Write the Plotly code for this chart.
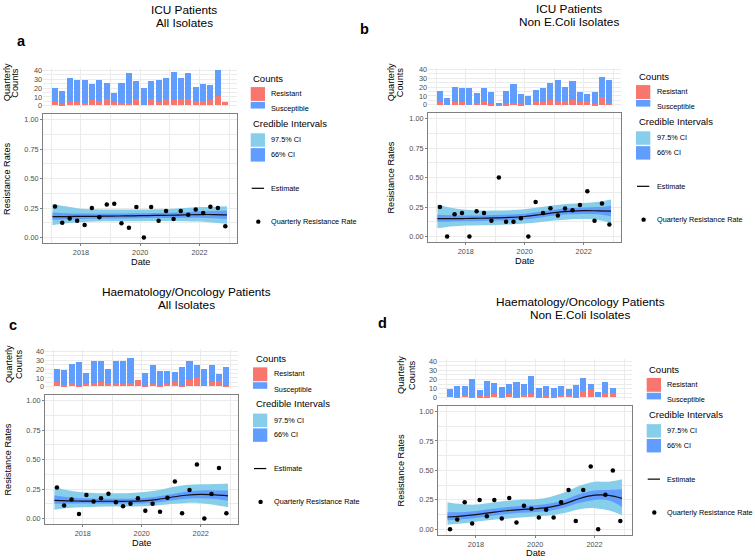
import plotly.graph_objects as go

W, H = 755, 560
FONT = "Liberation Sans, Arial, Helvetica, sans-serif"

# ---------------- data ----------------
quarters = ["2017-02-15", "2017-05-15", "2017-08-15", "2017-11-15",
            "2018-02-15", "2018-05-15", "2018-08-15", "2018-11-15",
            "2019-02-15", "2019-05-15", "2019-08-15", "2019-11-15",
            "2020-02-15", "2020-05-15", "2020-08-15", "2020-11-15",
            "2021-02-15", "2021-05-15", "2021-08-15", "2021-11-15",
            "2022-02-15", "2022-05-15", "2022-08-15", "2022-11-15"]
ribbon_dates = ["2017-01-15", "2017-07-01", "2018-01-01", "2018-07-01", "2019-01-01",
                "2019-07-01", "2020-01-01", "2020-07-01", "2021-01-01", "2021-07-01",
                "2022-01-01", "2022-07-01", "2022-12-05"]
year_ticks = ["2018-01-01", "2020-01-01", "2022-01-01"]
year_labels = ["2018", "2020", "2022"]
minor_years = ["2017-01-01", "2019-01-01", "2021-01-01", "2023-01-01"]
rate_ticks = [0, 0.25, 0.5, 0.75, 1.0]
rate_labels = ["0.00", "0.25", "0.50", "0.75", "1.00"]
count_ticks = [0, 10, 20, 30, 40]

# Panel a: ICU, all isolates
a_resistant = [5, 2, 5, 4, 3, 6, 5, 7, 4, 3, 3, 7, 0, 7, 4, 7, 6, 7, 7, 5, 5, 6, 10, 4]
a_susceptible = [14, 14, 26, 24, 25, 18, 24, 18, 10, 22, 33, 20, 19, 20, 24, 24, 32, 24, 29, 16, 19, 17, 30, 0]
a_rate = [0.263, 0.125, 0.161, 0.143, 0.107, 0.250, 0.172, 0.280, 0.286, 0.120, 0.083, 0.259,
          0.000, 0.259, 0.143, 0.226, 0.158, 0.226, 0.194, 0.238, 0.208, 0.261, 0.250, 0.095]
a_est = [0.178, 0.178, 0.179, 0.180, 0.182, 0.183, 0.185, 0.187, 0.189, 0.192, 0.195, 0.195, 0.192]
a_lo66 = [0.150, 0.155, 0.158, 0.160, 0.161, 0.162, 0.163, 0.165, 0.166, 0.168, 0.168, 0.164, 0.158]
a_hi66 = [0.212, 0.205, 0.203, 0.202, 0.203, 0.204, 0.206, 0.208, 0.211, 0.215, 0.222, 0.226, 0.230]
a_lo975 = [0.105, 0.120, 0.130, 0.135, 0.137, 0.138, 0.139, 0.140, 0.140, 0.139, 0.135, 0.125, 0.115]
a_hi975 = [0.285, 0.265, 0.245, 0.240, 0.238, 0.238, 0.238, 0.240, 0.243, 0.250, 0.258, 0.262, 0.265]

# Panel b: ICU, non E.coli isolates
b_resistant = [4, 0, 4, 4, 0, 3, 4, 2, 1, 2, 3, 2, 0, 5, 4, 6, 5, 5, 6, 4, 5, 2, 9, 3]
b_susceptible = [12, 8, 17, 16, 20, 11, 16, 13, 1, 14, 21, 11, 10, 12, 16, 19, 23, 16, 21, 11, 8, 13, 23, 26]
b_rate = [0.250, 0.000, 0.190, 0.200, 0.000, 0.214, 0.200, 0.133, 0.500, 0.125, 0.125, 0.154,
          0.000, 0.294, 0.200, 0.240, 0.179, 0.238, 0.222, 0.267, 0.385, 0.133, 0.281, 0.103]
b_est = [0.152, 0.152, 0.153, 0.155, 0.158, 0.162, 0.170, 0.185, 0.203, 0.213, 0.219, 0.218, 0.216]
b_lo66 = [0.125, 0.128, 0.130, 0.132, 0.135, 0.139, 0.146, 0.160, 0.178, 0.188, 0.192, 0.188, 0.170]
b_hi66 = [0.185, 0.180, 0.178, 0.179, 0.182, 0.186, 0.194, 0.210, 0.228, 0.240, 0.246, 0.250, 0.262]
b_lo975 = [0.070, 0.085, 0.093, 0.096, 0.098, 0.102, 0.110, 0.122, 0.135, 0.145, 0.148, 0.140, 0.115]
b_hi975 = [0.272, 0.245, 0.228, 0.220, 0.220, 0.224, 0.232, 0.248, 0.265, 0.278, 0.285, 0.296, 0.315]

# Panel c: Haematology/Oncology, all isolates
c_resistant = [5, 2, 4, 1, 3, 4, 5, 4, 4, 3, 4, 7, 1, 3, 1, 3, 5, 1, 7, 11, 0, 5, 6, 1]
c_susceptible = [14, 16, 21, 26, 12, 24, 24, 15, 25, 26, 28, 0, 14, 21, 16, 14, 11, 21, 22, 13, 19, 19, 8, 21]
c_rate = [0.263, 0.111, 0.160, 0.037, 0.200, 0.143, 0.172, 0.210, 0.138, 0.103, 0.125, 0.172,
          0.065, 0.125, 0.058, 0.176, 0.313, 0.045, 0.241, 0.458, 0.000, 0.208, 0.429, 0.045]
c_est = [0.153, 0.150, 0.147, 0.146, 0.146, 0.146, 0.150, 0.160, 0.180, 0.197, 0.204, 0.200, 0.192]
c_lo66 = [0.125, 0.127, 0.127, 0.126, 0.126, 0.126, 0.128, 0.136, 0.152, 0.168, 0.172, 0.165, 0.150]
c_hi66 = [0.195, 0.180, 0.172, 0.168, 0.167, 0.168, 0.172, 0.184, 0.205, 0.226, 0.238, 0.238, 0.238]
c_lo975 = [0.075, 0.088, 0.095, 0.100, 0.102, 0.102, 0.104, 0.110, 0.122, 0.132, 0.130, 0.115, 0.095]
c_hi975 = [0.270, 0.240, 0.222, 0.215, 0.214, 0.215, 0.222, 0.238, 0.265, 0.285, 0.290, 0.293, 0.297]

# Panel d: Haematology/Oncology, non E.coli isolates
d_resistant = [0, 1, 3, 1, 2, 2, 4, 1, 4, 1, 3, 4, 1, 2, 1, 3, 3, 1, 7, 8, 0, 5, 5, None]
d_susceptible = [9, 11, 10, 19, 6, 16, 12, 10, 11, 16, 12, 19, 9, 10, 9, 10, 6, 13, 14, 7, 6, 12, 5, None]
d_rate = [0.000, 0.083, 0.231, 0.050, 0.250, 0.111, 0.250, 0.091, 0.267, 0.059, 0.200, 0.174,
          0.100, 0.167, 0.100, 0.231, 0.333, 0.071, 0.333, 0.533, 0.000, 0.294, 0.500, 0.071]
d_est = [0.105, 0.112, 0.125, 0.142, 0.158, 0.168, 0.175, 0.188, 0.218, 0.262, 0.290, 0.288, 0.263]
d_lo66 = [0.078, 0.085, 0.097, 0.113, 0.128, 0.140, 0.147, 0.158, 0.185, 0.225, 0.250, 0.245, 0.190]
d_hi66 = [0.145, 0.145, 0.155, 0.172, 0.188, 0.198, 0.205, 0.220, 0.252, 0.300, 0.330, 0.335, 0.340]
d_lo975 = [0.040, 0.050, 0.065, 0.080, 0.090, 0.100, 0.110, 0.118, 0.138, 0.170, 0.180, 0.160, 0.120]
d_hi975 = [0.230, 0.215, 0.210, 0.225, 0.240, 0.252, 0.255, 0.275, 0.315, 0.370, 0.405, 0.405, 0.425]

# ---------------- styles / geometry (pixels) ----------------
C_RES = "#F8766D"
C_SUS = "#619CFF"
C_975 = "#87CEEB"
C_66 = "#619CFF"
GRID = "#EBEBEB"
BORDER = "#7f7f7f"
TICKC = "#4D4D4D"
X_RANGE = ["2016-09-20", "2023-04-08"]
BAR_WIDTH_MS = 75 * 86400000

panels = [
    dict(data=(a_resistant, a_susceptible, a_rate, a_est, a_lo66, a_hi66, a_lo975, a_hi975),
         title=("ICU Patients", "All Isolates"), tpos=(184, 7.3, 20.7), letter=("a", 21.7, 38.5),
         x=(43, 237), bar=(66.2, 105.8), rate=(112, 243),
         qc=(7, 15.5, 80), rr=(6.3, 177.5), date=(140, 262), leg=(250.7, 76)),
    dict(data=(b_resistant, b_susceptible, b_rate, b_est, b_lo66, b_hi66, b_lo975, b_hi975),
         title=("ICU Patients", "Non E.Coli Isolates"), tpos=(568.8, 6, 19), letter=("b", 364, 26.7),
         x=(428, 621), bar=(65.2, 104.8), rate=(111, 242),
         qc=(391, 400, 80), rr=(391, 176.5), date=(524.5, 261), leg=(636, 74)),
    dict(data=(c_resistant, c_susceptible, c_rate, c_est, c_lo66, c_hi66, c_lo975, c_hi975),
         title=("Haematology/Oncology Patients", "All Isolates"), tpos=(186, 292.3, 305),
         letter=("c", 12.5, 325.3),
         x=(45, 238), bar=(350.2, 389.8), rate=(396, 527),
         qc=(9, 19, 365), rr=(8, 461.5), date=(141.5, 546), leg=(253, 359.3)),
    dict(data=(d_resistant, d_susceptible, d_rate, d_est, d_lo66, d_hi66, d_lo975, d_hi975),
         title=("Haematology/Oncology Patients", "Non E.Coli Isolates"), tpos=(580, 302.3, 315.7),
         letter=("d", 382, 323),
         x=(438, 632), bar=(360.2, 400.9), rate=(407, 538),
         qc=(401, 412, 376), rr=(401, 472.5), date=(535, 555.5), leg=(646.7, 370)),
]


def fx(x):
    return x / W


def fy(y):
    return 1 - y / H


fig = go.Figure()
annotations = []
shapes = []
layout = dict(width=W, height=H, margin=dict(l=0, r=0, t=0, b=0),
              paper_bgcolor="white", plot_bgcolor="white", barmode="stack",
              showlegend=False, font=dict(family=FONT, color="black"),
              bargap=0)


def text(x, y, s, size, angle=0, xanchor="center", bold=False, color="black"):
    if bold:
        s = "<b>" + s + "</b>"
    annotations.append(dict(x=fx(x), y=fy(y), xref="paper", yref="paper", text=s,
                            showarrow=False, xanchor=xanchor, yanchor="middle",
                            textangle=angle, font=dict(size=size, color=color, family=FONT)))


def rect(x0, y0, x1, y1, color):
    shapes.append(dict(type="rect", xref="paper", yref="paper", x0=fx(x0), x1=fx(x1),
                       y0=fy(y1), y1=fy(y0), fillcolor=color, line=dict(width=0)))


for i, p in enumerate(panels):
    res, sus, rate, est, lo66, hi66, lo975, hi975 = p["data"]
    kb, kr = 2 * i + 1, 2 * i + 2
    xb, yb = ("x" if kb == 1 else f"x{kb}"), ("y" if kb == 1 else f"y{kb}")
    xr, yr = f"x{kr}", f"y{kr}"

    # bars
    fig.add_trace(go.Bar(x=quarters, y=res, marker=dict(color=C_RES, line=dict(width=0)),
                         width=BAR_WIDTH_MS, xaxis=xb, yaxis=yb, name="Resistant"))
    fig.add_trace(go.Bar(x=quarters, y=sus, marker=dict(color=C_SUS, line=dict(width=0)),
                         width=BAR_WIDTH_MS, xaxis=xb, yaxis=yb, name="Susceptible"))

    # ribbons
    fig.add_trace(go.Scatter(x=ribbon_dates, y=lo975, mode="lines", line=dict(width=0, shape="spline"),
                             xaxis=xr, yaxis=yr, hoverinfo="skip"))
    fig.add_trace(go.Scatter(x=ribbon_dates, y=hi975, mode="lines", line=dict(width=0, shape="spline"),
                             fill="tonexty", fillcolor=C_975, xaxis=xr, yaxis=yr, name="97.5% CI"))
    fig.add_trace(go.Scatter(x=ribbon_dates, y=lo66, mode="lines", line=dict(width=0, shape="spline"),
                             xaxis=xr, yaxis=yr, hoverinfo="skip"))
    fig.add_trace(go.Scatter(x=ribbon_dates, y=hi66, mode="lines", line=dict(width=0, shape="spline"),
                             fill="tonexty", fillcolor=C_66, xaxis=xr, yaxis=yr, name="66% CI"))
    fig.add_trace(go.Scatter(x=ribbon_dates, y=est, mode="lines",
                             line=dict(width=1.2, color="#111111", shape="spline"),
                             xaxis=xr, yaxis=yr, name="Estimate"))
    fig.add_trace(go.Scatter(x=quarters, y=rate, mode="markers",
                             marker=dict(size=4.5, color="black"),
                             xaxis=xr, yaxis=yr, name="Quarterly Resistance Rate"))

    x0, x1 = p["x"]
    xdom = [fx(x0), fx(x1)]
    common_x = dict(type="date", range=X_RANGE, domain=xdom, tickmode="array",
                    tickvals=year_ticks, ticktext=year_labels, showgrid=True, gridcolor=GRID,
                    gridwidth=1, zeroline=False,
                    minor=dict(tickmode="array", tickvals=minor_years, showgrid=True,
                               gridcolor=GRID, gridwidth=0.6, ticks=""))
    layout["xaxis" if kb == 1 else f"xaxis{kb}"] = dict(
        common_x, anchor=yb, showticklabels=False, ticks="", showline=False)
    layout[f"xaxis{kr}"] = dict(
        common_x, anchor=yr, showticklabels=True, ticks="outside", ticklen=2,
        tickcolor=BORDER, tickwidth=1, showline=True, mirror=True, linecolor=BORDER,
        linewidth=1, tickfont=dict(size=7.3, color=TICKC, family=FONT))

    bt, bbm = p["bar"]
    layout["yaxis" if kb == 1 else f"yaxis{kb}"] = dict(
        domain=[fy(bbm), fy(bt)], anchor=xb, range=[-2, 42], tickmode="array",
        tickvals=count_ticks, ticktext=[str(v) for v in count_ticks], showgrid=True,
        gridcolor=GRID, gridwidth=1, zeroline=False, ticks="", showline=False,
        tickfont=dict(size=7.3, color=TICKC, family=FONT),
        minor=dict(tickmode="array", tickvals=[5, 15, 25, 35], showgrid=True,
                   gridcolor=GRID, gridwidth=0.6, ticks=""))
    rt, rbm = p["rate"]
    layout[f"yaxis{kr}"] = dict(
        domain=[fy(rbm), fy(rt)], anchor=xr, range=[-0.05, 1.05], tickmode="array",
        tickvals=rate_ticks, ticktext=rate_labels, showgrid=True, gridcolor=GRID,
        gridwidth=1, zeroline=False, ticks="outside", ticklen=2, tickcolor=BORDER,
        tickwidth=1, showline=True, mirror=True, linecolor=BORDER, linewidth=1,
        tickfont=dict(size=7.3, color=TICKC, family=FONT),
        minor=dict(tickmode="array", tickvals=[0.125, 0.375, 0.625, 0.875], showgrid=True,
                   gridcolor=GRID, gridwidth=0.6, ticks=""))

    # titles and labels
    tx, ty1, ty2 = p["tpos"]
    text(tx, ty1, p["title"][0], 11.8)
    text(tx, ty2, p["title"][1], 11.8)
    lt, lx, ly = p["letter"]
    text(lx, ly, lt, 14.5, bold=True)
    qx1, qx2, qy = p["qc"]
    text(qx1, qy, "Quarterly", 9.2, angle=-90)
    text(qx2, qy, "Counts", 9.2, angle=-90)
    text(p["rr"][0], p["rr"][1], "Resistance Rates", 9.2, angle=-90)
    text(p["date"][0], p["date"][1], "Date", 9.2)

    # legend (drawn as keys + labels)
    gx, gy = p["leg"]
    text(gx + 0.5, gy, "Counts", 9.5, xanchor="left")
    rect(gx, gy + 9, gx + 14.3, gy + 23, C_RES)
    text(gx + 18.6, gy + 15.7, "Resistant", 7.3, xanchor="left")
    rect(gx, gy + 24, gx + 14.3, gy + 30.7, C_SUS)
    text(gx + 18.6, gy + 31, "Susceptible", 7.3, xanchor="left")
    text(gx + 0.5, gy + 46, "Credible Intervals", 9.5, xanchor="left")
    rect(gx, gy + 55.7, gx + 14.3, gy + 69.3, C_975)
    text(gx + 18.6, gy + 62.3, "97.5% CI", 7.3, xanchor="left")
    rect(gx, gy + 70.7, gx + 14.3, gy + 84.3, C_66)
    text(gx + 18.6, gy + 77.3, "66% CI", 7.3, xanchor="left")
    shapes.append(dict(type="line", xref="paper", yref="paper", x0=fx(gx + 1), x1=fx(gx + 13.3),
                       y0=fy(gy + 111.3), y1=fy(gy + 111.3), line=dict(color="black", width=1.2)))
    text(gx + 18.6, gy + 111.3, "Estimate", 7.3, xanchor="left")
    shapes.append(dict(type="circle", xref="paper", yref="paper", x0=fx(gx + 5.4), x1=fx(gx + 9.8),
                       y0=fy(gy + 147.2), y1=fy(gy + 142.8), fillcolor="black",
                       line=dict(width=0)))
    text(gx + 18.6, gy + 145, "Quarterly Resistance Rate", 7.3, xanchor="left")

layout["annotations"] = annotations
layout["shapes"] = shapes
fig.update_layout(**layout)
fig.write_html("out.html", config={"displayModeBar": False},
               post_script="document.body.style.margin='0';document.body.style.padding='0';")
